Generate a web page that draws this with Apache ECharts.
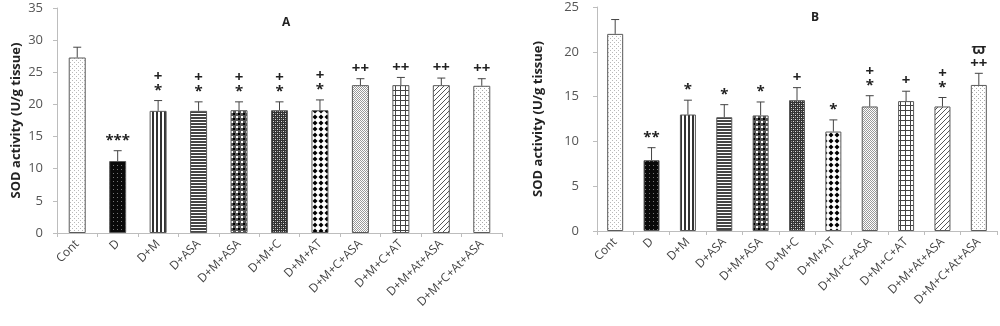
<!DOCTYPE html>
<html><head><meta charset="utf-8">
<script src="https://cdn.jsdelivr.net/npm/echarts@6/dist/echarts.min.js"></script>
<style>html,body{margin:0;padding:0;background:#fff}#c{width:1000px;height:326px}</style>
</head><body><div id="c"></div>
<script>
const categories = ['Cont','D','D+M','D+ASA','D+M+ASA','D+M+C','D+M+AT','D+M+C+ASA','D+M+C+AT','D+M+At+ASA','D+M+C+At+ASA'];
const valuesA = [27.3, 11.2, 19.0, 19.0, 19.1, 19.1, 19.1, 23.0, 23.0, 23.0, 22.9];
const errTopA = [28.9, 12.8, 20.6, 20.4, 20.4, 20.4, 20.7, 24.0, 24.2, 24.1, 24.0];
const annotA = ['', '***', '+\n*', '+\n*', '+\n*', '+\n*', '+\n*', '++', '++', '++', '++'];
const valuesB = [22.0, 7.9, 13.0, 12.7, 12.9, 14.6, 11.1, 13.9, 14.5, 13.9, 16.3];
const errTopB = [23.6, 9.3, 14.6, 14.1, 14.4, 16.0, 12.4, 15.1, 15.6, 14.9, 17.6];
const annotB = ['', '**', '*', '*', '*', '+', '*', '+\n*', '+', '+\n*', 'ϖ\n++'];
const yTicksA = {min: 0, max: 35, interval: 5};
const yTicksB = {min: 0, max: 25, interval: 5};

function pat(w, h, draw) {
  const c = document.createElement('canvas'); c.width = w; c.height = h;
  const x = c.getContext('2d'); draw(x, w, h); return {image: c, repeat: 'repeat'};
}
const patterns = [
  pat(4, 4, (x) => { x.fillStyle = '#fff'; x.fillRect(0,0,4,4); x.fillStyle = '#b8b8b8'; x.fillRect(0,0,1,1); x.fillRect(2,2,1,1); }),
  pat(4, 4, (x) => { x.fillStyle = '#0a0a0a'; x.fillRect(0,0,4,4); x.fillStyle = '#777'; x.fillRect(1,1,1,1); }),
  pat(4, 4, (x) => { x.fillStyle = '#fff'; x.fillRect(0,0,4,4); x.fillStyle = '#333'; x.fillRect(0,0,2,4); }),
  pat(4, 3, (x) => { x.fillStyle = '#fff'; x.fillRect(0,0,4,3); x.fillStyle = '#444'; x.fillRect(0,0,4,2); }),
  pat(5, 5, (x) => { x.fillStyle = '#555'; x.fillRect(0,0,5,5); x.fillStyle = '#fff'; x.fillRect(1,1,2,2); x.fillStyle = '#000'; x.fillRect(3,3,2,2); }),
  pat(4, 4, (x) => { x.fillStyle = '#333'; x.fillRect(0,0,4,4); x.fillStyle = '#ddd'; x.fillRect(1,1,1,1); x.fillRect(3,3,1,1); x.fillStyle = '#888'; x.fillRect(3,1,1,1); x.fillRect(1,3,1,1); }),
  pat(6, 6, (x) => { x.fillStyle = '#fff'; x.fillRect(0,0,6,6); x.fillStyle = '#000';
    x.beginPath(); x.moveTo(3,0.5); x.lineTo(5.5,3); x.lineTo(3,5.5); x.lineTo(0.5,3); x.closePath(); x.fill(); }),
  pat(4, 4, (x) => { x.fillStyle = '#fff'; x.fillRect(0,0,4,4); x.fillStyle = '#999'; x.fillRect(0,0,1,1); x.fillRect(2,0,1,1); x.fillRect(1,1,1,1); x.fillRect(3,1,1,1); x.fillRect(0,2,1,1); x.fillRect(2,2,1,1); x.fillRect(1,3,1,1); x.fillRect(3,3,1,1); x.fillStyle='#fff'; x.fillRect(1,2,1,1);}),
  pat(5, 5, (x) => { x.fillStyle = '#fff'; x.fillRect(0,0,5,5); x.fillStyle = '#444'; x.fillRect(0,0,5,1); x.fillRect(0,0,1,5); }),
  pat(5, 5, (x) => { x.fillStyle = '#fff'; x.fillRect(0,0,5,5); x.strokeStyle = '#555'; x.lineWidth = 1;
    x.beginPath(); x.moveTo(0,5); x.lineTo(5,0); x.moveTo(-1,1); x.lineTo(1,-1); x.moveTo(4,6); x.lineTo(6,4); x.stroke(); }),
  pat(4, 4, (x) => { x.fillStyle = '#fff'; x.fillRect(0,0,4,4); x.fillStyle = '#aaa'; x.fillRect(0,0,1,1); x.fillRect(2,2,1,1); })
];

const FONT = '"Open Sans", "Liberation Sans", sans-serif';

function barData(vals) {
  return vals.map((v, i) => ({value: v, itemStyle: {color: patterns[i], borderColor: '#5a5a5a', borderWidth: 1}}));
}
function errData(vals, tops, ann) {
  return vals.map((v, i) => [i, tops[i], v, ann[i]]);
}
function renderErr(params, api) {
  const i = api.value(0);
  const top = api.coord([i, api.value(1)]);
  const base = api.coord([i, api.value(2)]);
  const txt = params.context.annot[params.dataIndex];
  const ch = [
    {type: 'line', shape: {x1: top[0], y1: base[1], x2: top[0], y2: top[1]}, style: {stroke: '#444', lineWidth: 1}},
    {type: 'line', shape: {x1: top[0] - 4, y1: top[1], x2: top[0] + 4, y2: top[1]}, style: {stroke: '#444', lineWidth: 1}}
  ];
  if (txt) {
    ch.push({type: 'text', style: {text: txt, x: top[0], y: top[1] - 3, align: 'center', verticalAlign: 'bottom',
      font: 'bold 15px ' + FONT, lineHeight: 14, fill: '#222'}});
  }
  return {type: 'group', children: ch};
}

function xAxis(idx) {
  return {type: 'category', gridIndex: idx, data: categories,
    axisLine: {lineStyle: {color: '#bdbdbd'}},
    axisTick: {show: true, alignWithLabel: false, length: 4, lineStyle: {color: '#bdbdbd'}},
    axisLabel: {rotate: 45, color: '#444', fontSize: 12, fontFamily: FONT, interval: 0, margin: 9}};
}
function yAxis(idx, t, margin, gap) {
  return {type: 'value', gridIndex: idx, min: t.min, max: t.max, interval: t.interval,
    name: 'SOD activity (U/g tissue)', nameLocation: 'middle', nameGap: gap,
    nameTextStyle: {fontWeight: 'bold', fontSize: 13, color: '#222', fontFamily: FONT},
    axisLine: {show: true, lineStyle: {color: '#bdbdbd'}},
    axisTick: {show: true, length: 4, lineStyle: {color: '#bdbdbd'}},
    splitLine: {show: false},
    axisLabel: {color: '#555', fontSize: 13, fontFamily: FONT, margin: margin}};
}

const chart = echarts.init(document.getElementById('c'), null, {renderer: 'canvas'});
chart.setOption({
  animation: false,
  title: [
    {text: 'A', left: 277, top: 12, textStyle: {fontSize: 12, fontWeight: 'bold', color: '#222', fontFamily: FONT}},
    {text: 'B', left: 806, top: 7, textStyle: {fontSize: 12, fontWeight: 'bold', color: '#222', fontFamily: FONT}}
  ],
  grid: [
    {left: 57, width: 445, top: 8, height: 225},
    {left: 597, width: 400, top: 7, height: 224}
  ],
  xAxis: [xAxis(0), xAxis(1)],
  yAxis: [yAxis(0, yTicksA, 14, 34), yAxis(1, yTicksB, 18, 52)],
  series: [
    {type: 'bar', xAxisIndex: 0, yAxisIndex: 0, data: barData(valuesA), barWidth: 17},
    {type: 'custom', xAxisIndex: 0, yAxisIndex: 0, data: errData(valuesA, errTopA, annotA),
      renderItem: (p, api) => { p.context.annot = annotA; return renderErr(p, api); }, z: 5},
    {type: 'bar', xAxisIndex: 1, yAxisIndex: 1, data: barData(valuesB), barWidth: 16},
    {type: 'custom', xAxisIndex: 1, yAxisIndex: 1, data: errData(valuesB, errTopB, annotB),
      renderItem: (p, api) => { p.context.annot = annotB; return renderErr(p, api); }, z: 5}
  ]
});
</script></body></html>
